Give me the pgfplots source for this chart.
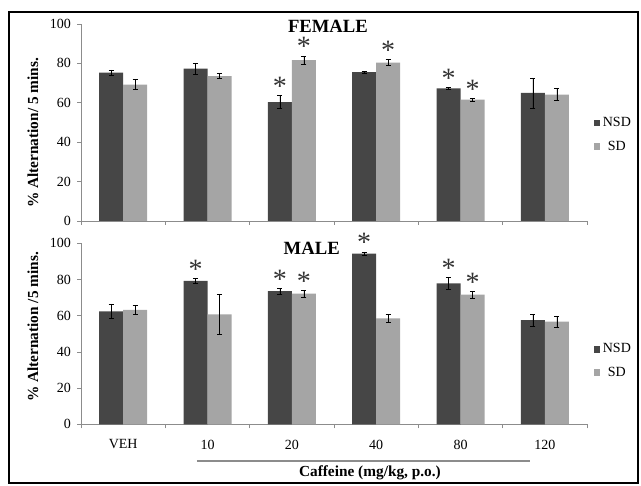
\documentclass[border=0pt]{standalone}
\usepackage{pgfplots}
\usepackage{pgfplotstable}
\pgfplotsset{compat=1.18}
\usepackage{fontspec}
\setmainfont{Liberation Serif}

\definecolor{nsdcol}{HTML}{464646}
\definecolor{sdcol}{HTML}{A5A5A5}
\definecolor{axcol}{HTML}{8C8C8C}

% x, value, error, star  (NSD then SD)
\pgfplotstableread[col sep=comma]{
x,nsd,nsde,nsds,sd,sde,sds
0,75.3,1.4,,69.2,2.6,
1,77.3,2.9,,73.6,1.3,
2,60.4,3.3,*,81.6,2.2,*
3,75.6,0.5,,80.4,1.6,*
4,67.3,0.4,*,61.6,0.8,*
5,65.0,7.6,,64.1,3.1,
}\female

\pgfplotstableread[col sep=comma]{
x,nsd,nsde,nsds,sd,sde,sds
0,62.4,4.1,,63.3,2.3,
1,79.2,1.5,*,60.8,10.8,
2,73.6,1.7,*,72.2,1.9,*
3,94.3,1.0,*,58.6,2.2,
4,77.9,3.3,*,71.6,2.0,*
5,57.6,3.3,,56.7,3.2,
}\male

\pgfplotsset{
  panel/.style={
    scale only axis,
    width=379.5pt,
    ybar=0pt,
    bar width=18pt,
    xmin=-0.5, xmax=5.5,
    ymin=0, ymax=100,
    ytick={0,20,...,100},
    xtick={0,...,5},
    minor xtick={-0.5,0.5,...,5.5},
    major x tick style={draw=none},
    minor tick length=3pt,
    major tick length=3pt,
    tick align=outside,
    axis x line*=bottom,
    axis y line*=left,
    axis line style={axcol, line width=0.6pt},
    every tick/.style={axcol, line width=0.6pt},
    /pgf/number format/assume math mode=true,
    tick label style={font=\fontsize{10.5}{12}\selectfont},
    yticklabel style={xshift=-1pt},
    xticklabel style={yshift=-5pt},
    ylabel style={font=\fontsize{11.5}{13}\bfseries, anchor=center},
    title style={font=\fontsize{14}{16}\bfseries, anchor=center, yshift=-6pt},
    legend style={draw=none, fill=none, anchor=west,
      font=\fontsize{10.5}{12}\selectfont, row sep=5pt,
      /tikz/every even column/.append style={column sep=1pt}},
    legend image code/.code={\fill[##1, draw=none] (0pt,-2.4pt) rectangle (4.8pt,2.4pt);},
    error bars/y dir=both,
    error bars/y explicit,
    error bars/error bar style={black, line width=0.5pt},
    error bars/error mark options={rotate=90, black, mark size=1.9pt, line width=0.5pt},
    nodes near coords,
    point meta=explicit symbolic,
    every node near coord/.append style={font=\fontsize{21}{21}\selectfont, anchor=base, inner sep=0pt, text=black!80},
  },
}

\begin{document}
\begin{tikzpicture}
\path (0,0) rectangle (480.75pt,363.75pt);
\draw[black, line width=0.8pt] (6.75pt,1.5pt) rectangle (478.5pt,354.75pt);

% FEMALE
\begin{axis}[
  panel,
  at={(60.75pt,198pt)}, anchor=south west,
  height=147.75pt,
  xticklabels={},
  ylabel={\% Alternation/ 5 mins.},
  ylabel style={at={(axis description cs:-0.095,0.447)}},
  title={FEMALE},
  title style={at={(axis description cs:0.488,0.99)}},
  legend style={at={(axis description cs:1.005,0.437)}},
]
\addplot[fill=nsdcol, draw=none,
  visualization depends on={\thisrow{nsde} \as \errv},
  every node near coord/.append style={yshift=\errv*1.4775pt}]
  table[x=x, y=nsd, y error=nsde, meta=nsds] {\female};
\addplot[fill=sdcol, draw=none,
  visualization depends on={\thisrow{sde} \as \errv},
  every node near coord/.append style={yshift=\errv*1.4775pt}]
  table[x=x, y=sd, y error=sde, meta=sds] {\female};
\legend{NSD, SD}
\end{axis}

% MALE
\begin{axis}[
  panel,
  clip=false,
  at={(60.75pt,45.5pt)}, anchor=south west,
  height=135.75pt,
  xticklabels={VEH,10,20,40,80,120},
  ylabel={\% Alternation /5 mins.},
  ylabel style={at={(axis description cs:-0.095,0.538)}},
  title={MALE},
  title style={at={(axis description cs:0.456,0.97)}},
  legend style={at={(axis description cs:1.005,0.35)}},
  xlabel={Caffeine (mg/kg, p.o.)},
  xlabel style={font=\fontsize{11.5}{13}\bfseries, at={(axis description cs:0.571,0)}, anchor=center, yshift=-36pt},
]
\addplot[fill=nsdcol, draw=none,
  visualization depends on={\thisrow{nsde} \as \errv},
  every node near coord/.append style={yshift=\errv*1.3575pt}]
  table[x=x, y=nsd, y error=nsde, meta=nsds] {\male};
\addplot[fill=sdcol, draw=none,
  visualization depends on={\thisrow{sde} \as \errv},
  every node near coord/.append style={yshift=\errv*1.3575pt}]
  table[x=x, y=sd, y error=sde, meta=sds] {\male};
\legend{NSD, SD}
\draw[axcol, line width=1.1pt] ([yshift=-27.5pt]axis description cs:0.229,0) -- ([yshift=-27.5pt]axis description cs:0.887,0);
\end{axis}
\end{tikzpicture}
\end{document}
